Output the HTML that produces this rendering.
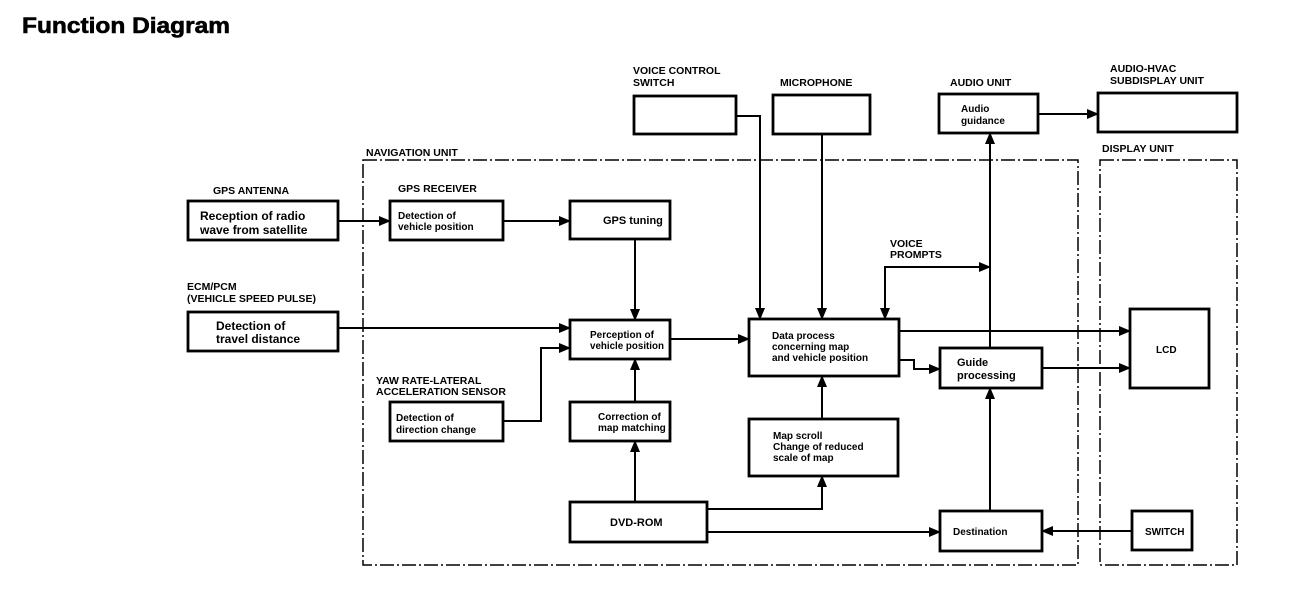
<!DOCTYPE html>
<html><head><meta charset="utf-8"><style>
html,body{margin:0;padding:0;background:#fff;}
svg{display:block;}
text{font-family:"Liberation Sans",sans-serif;font-weight:bold;fill:#000;}
.l{font-size:10.5px;}
.b{font-size:11px;}
</style></head><body>
<svg width="1312" height="594" viewBox="0 0 1312 594" xmlns="http://www.w3.org/2000/svg">
<defs>
<marker id="a" markerWidth="12" markerHeight="10" refX="11" refY="5" orient="auto" markerUnits="userSpaceOnUse">
<path d="M0,0 L12,5 L0,10 Z" fill="#000"/></marker>
</defs>
<text x="22" y="33" style="font-size:22px;stroke:#000;stroke-width:0.6" textLength="208" lengthAdjust="spacingAndGlyphs">Function Diagram</text>

<g fill="none" stroke="#000" stroke-width="1.5" stroke-dasharray="14,3,2,3">
<rect x="363" y="160" width="715" height="405"/>
<rect x="1100" y="160" width="137" height="405"/>
</g>

<g fill="none" stroke="#000" stroke-width="2.8">
<rect x="188" y="201" width="150" height="39"/>
<rect x="188" y="312" width="150" height="39"/>
<rect x="390" y="201" width="113" height="39"/>
<rect x="570" y="201" width="100" height="38"/>
<rect x="570" y="320" width="100" height="39"/>
<rect x="390" y="402" width="113" height="39"/>
<rect x="570" y="402" width="100" height="39"/>
<rect x="570" y="502" width="137" height="40"/>
<rect x="749" y="419" width="149" height="57"/>
<rect x="749" y="319" width="150" height="57"/>
<rect x="940" y="348" width="102" height="40"/>
<rect x="940" y="511" width="102" height="40"/>
<rect x="1132" y="511" width="60" height="39"/>
<rect x="1130" y="309" width="79" height="79"/>
<rect x="634" y="96" width="102" height="38"/>
<rect x="773" y="95" width="97" height="39"/>
<rect x="939" y="94" width="99" height="39"/>
<rect x="1098" y="93" width="139" height="39"/>
</g>

<g fill="none" stroke="#000" stroke-width="2">
<path d="M338,221 H390" marker-end="url(#a)"/>
<path d="M503,221 H570" marker-end="url(#a)"/>
<path d="M635,239 V320" marker-end="url(#a)"/>
<path d="M338,328 H570" marker-end="url(#a)"/>
<path d="M503,421 H541 V348 H570" marker-end="url(#a)"/>
<path d="M635,402 V359" marker-end="url(#a)"/>
<path d="M635,502 V441" marker-end="url(#a)"/>
<path d="M670,339 H749" marker-end="url(#a)"/>
<path d="M736,116 H760 V319" marker-end="url(#a)"/>
<path d="M822,134 V319" marker-end="url(#a)"/>
<path d="M885,300 V267 H990" marker-end="url(#a)"/>
<path d="M885,280 V319" marker-end="url(#a)"/>
<path d="M990,348 V133" marker-end="url(#a)"/>
<path d="M1038,114 H1098" marker-end="url(#a)"/>
<path d="M899,331 H1130" marker-end="url(#a)"/>
<path d="M899,360 H914 V369 H940" marker-end="url(#a)"/>
<path d="M1042,368 H1130" marker-end="url(#a)"/>
<path d="M822,419 V376" marker-end="url(#a)"/>
<path d="M707,509 H822 V476" marker-end="url(#a)"/>
<path d="M707,532 H940" marker-end="url(#a)"/>
<path d="M990,511 V388" marker-end="url(#a)"/>
<path d="M1132,531 H1042" marker-end="url(#a)"/>
</g>

<text class="l" x="366" y="156">NAVIGATION UNIT</text>
<text class="l" x="213" y="194">GPS ANTENNA</text>
<text class="l" x="398" y="192">GPS RECEIVER</text>
<text class="l" x="187" y="290">ECM/PCM</text>
<text class="l" x="187" y="302">(VEHICLE SPEED PULSE)</text>
<text class="l" x="376" y="384">YAW RATE-LATERAL</text>
<text class="l" x="376" y="395">ACCELERATION SENSOR</text>
<text class="l" x="633" y="74">VOICE CONTROL</text>
<text class="l" x="633" y="86">SWITCH</text>
<text class="l" x="780" y="86">MICROPHONE</text>
<text class="l" x="950" y="86">AUDIO UNIT</text>
<text class="l" x="1110" y="72">AUDIO-HVAC</text>
<text class="l" x="1110" y="84">SUBDISPLAY UNIT</text>
<text class="l" x="1102" y="152">DISPLAY UNIT</text>
<text class="l" x="890" y="247">VOICE</text>
<text class="l" x="890" y="258">PROMPTS</text>

<text class="b" x="200" y="220" style="font-size:12px">Reception of radio</text>
<text class="b" x="200" y="234" style="font-size:12px">wave from satellite</text>
<text class="b" x="216" y="330" style="font-size:12px">Detection of</text>
<text class="b" x="216" y="343" style="font-size:12px">travel distance</text>
<text class="b" x="398" y="219" style="font-size:10px">Detection of</text>
<text class="b" x="398" y="230" style="font-size:10px">vehicle position</text>
<text class="b" x="603" y="224">GPS tuning</text>
<text class="b" x="590" y="338" style="font-size:10px">Perception of</text>
<text class="b" x="590" y="349" style="font-size:10px" textLength="74" lengthAdjust="spacingAndGlyphs">vehicle position</text>
<text class="b" x="396" y="421" style="font-size:10px">Detection of</text>
<text class="b" x="396" y="433" style="font-size:10px">direction change</text>
<text class="b" x="598" y="420" style="font-size:10px">Correction of</text>
<text class="b" x="598" y="431" style="font-size:10px">map matching</text>
<text class="b" x="610" y="526">DVD-ROM</text>
<text class="b" x="772" y="339" style="font-size:10px">Data process</text>
<text class="b" x="772" y="350" style="font-size:10px">concerning map</text>
<text class="b" x="772" y="361" style="font-size:10px">and vehicle position</text>
<text class="b" x="773" y="439" style="font-size:10px">Map scroll</text>
<text class="b" x="773" y="450" style="font-size:10px">Change of reduced</text>
<text class="b" x="773" y="461" style="font-size:10px">scale of map</text>
<text class="b" x="957" y="366">Guide</text>
<text class="b" x="957" y="379">processing</text>
<text class="b" x="961" y="112" style="font-size:10px">Audio</text>
<text class="b" x="961" y="124" style="font-size:10px">guidance</text>
<text class="b" x="953" y="535" style="font-size:10px">Destination</text>
<text class="b" x="1145" y="535" style="font-size:10px">SWITCH</text>
<text class="b" x="1156" y="353" style="font-size:10px">LCD</text>
</svg>
</body></html>
